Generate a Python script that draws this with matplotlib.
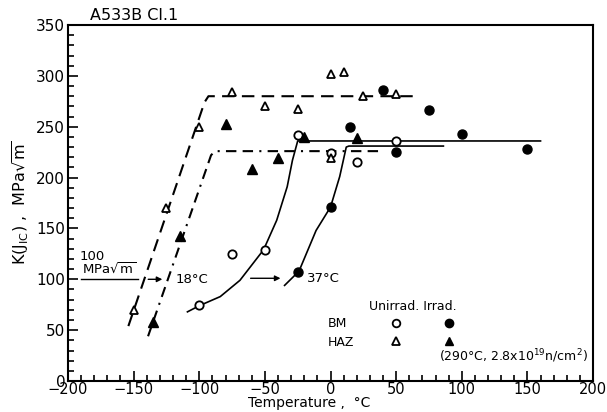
import matplotlib
matplotlib.use("Agg")
import matplotlib.pyplot as plt
import numpy as np

matplotlib.rc('font', family='DejaVu Sans', size=10)

# --- data ---
# BM = base metal, HAZ = heat affected zone
bm_unirr_T = [-100, -75, -50, -25, 0, 20, 50]
bm_unirr_K = [75, 125, 129, 242, 224, 215, 236]
bm_irr_T = [-25, 0, 15, 40, 50, 75, 100, 150]
bm_irr_K = [107, 171, 250, 286, 225, 266, 243, 228]
haz_unirr_T = [-150, -125, -100, -75, -50, -25, 0, 0, 10, 25, 50]
haz_unirr_K = [70, 170, 250, 284, 270, 267, 302, 219, 304, 280, 282]
haz_irr_T = [-135, -115, -80, -60, -40, -20, 20]
haz_irr_K = [58, 143, 253, 208, 219, 240, 239]

# fitted transition curves
haz_unirr_fit_T = [-154, -96, -93, 65]
haz_unirr_fit_K = [54, 274, 280, 280]
haz_irr_fit_T = [-139, -91, -88, 40]
haz_irr_fit_K = [44, 222, 226, 226]
bm_unirr_fit_T = [-109, -100, -84, -69, -51, -41, -33, -29, -25, 160]
bm_unirr_fit_K = [68, 74, 83, 99, 129, 158, 191, 217, 236, 236]
bm_irr_fit_T = [-35, -24, -11, 0, 7, 12, 14, 86]
bm_irr_fit_K = [94, 108, 148, 171, 201, 230, 231, 231]

shift_unirr = [-190, -126]   # 100 MPa sqrt(m) index temperatures
shift_irr = [-63, -36]
K_index = 100

fig = plt.figure(figsize=(6.07, 4.12), dpi=100)
ax = fig.add_axes([0.112, 0.0752, 0.865, 0.8641])

ax.plot(haz_unirr_fit_T, haz_unirr_fit_K, color='black', lw=1.5, ls=(0, (6, 3.5)))
ax.plot(haz_irr_fit_T, haz_irr_fit_K, color='black', lw=1.5, ls=(0, (5, 3, 5, 3, 1, 3)))
ax.plot(bm_unirr_fit_T, bm_unirr_fit_K, color='black', lw=1.2)
ax.plot(bm_irr_fit_T, bm_irr_fit_K, color='black', lw=1.2)

ax.plot(bm_unirr_T, bm_unirr_K, 'o', mfc='white', mec='black', mew=1.3, ms=6)
ax.plot(bm_irr_T, bm_irr_K, 'o', mfc='black', mec='black', ms=6.5)
ax.plot(haz_unirr_T, haz_unirr_K, '^', mfc='white', mec='black', mew=1.3, ms=6)
ax.plot(haz_irr_T, haz_irr_K, '^', mfc='black', mec='black', ms=6.5)

# shift arrows
ax.plot([shift_unirr[0], -147], [K_index, K_index], color='black', lw=1)
ax.annotate('', xy=(shift_unirr[1], K_index), xytext=(-141, K_index),
            arrowprops=dict(arrowstyle='-|>', color='black', lw=1, mutation_scale=8))
ax.annotate('', xy=(shift_irr[1], K_index + 1), xytext=(shift_irr[0], K_index + 1),
            arrowprops=dict(arrowstyle='-|>', color='black', lw=1, mutation_scale=8))
ax.text(-191, 116, '100', fontsize=9.5, va='bottom')
ax.text(-189, 102, r'MPa$\sqrt{\rm m}$', fontsize=9.5, va='bottom')
ax.text(-118, 100, '18°C', fontsize=9.5, va='center')
ax.text(-18, 101, '37°C', fontsize=9.5, va='center')

# legend as text, like the original
ax.text(29, 73, 'Unirrad. Irrad.', fontsize=9, va='center')
ax.text(-2, 57, 'BM', fontsize=9, va='center')
ax.text(-2, 38, 'HAZ', fontsize=9, va='center')
ax.plot([50], [57], 'o', mfc='white', mec='black', mew=1.3, ms=5.5)
ax.plot([90], [57], 'o', mfc='black', mec='black', ms=6)
ax.plot([50], [39], '^', mfc='white', mec='black', mew=1.3, ms=5.5)
ax.plot([90], [39], '^', mfc='black', mec='black', ms=6)
ax.text(83, 24, r'(290°C, 2.8x10$^{19}$n/cm$^{2}$)', fontsize=9, va='center')

ax.text(-183, 352, 'A533B Cl.1', fontsize=11.5, va='bottom')

ax.set_xlim(-200, 200)
ax.set_ylim(0, 350)
ax.set_xticks(np.arange(-200, 201, 50))
ax.set_yticks(np.arange(0, 351, 50))
ax.set_xticks(np.arange(-200, 201, 10), minor=True)
ax.set_yticks(np.arange(0, 351, 10), minor=True)
ax.tick_params(which='both', direction='in', width=1.2)
ax.tick_params(which='major', length=7)
ax.tick_params(which='minor', length=4)
ax.tick_params(axis='x', pad=1, labelsize=10.5)
ax.tick_params(axis='y', pad=2, labelsize=11)
for s in ax.spines.values():
    s.set_linewidth(1.5)

ax.set_xlabel('Temperature ,  °C', fontsize=10)
ax.xaxis.set_label_coords(0.46, -0.043)
ax.set_ylabel(r'K(J$_{\rm IC}$) ,  MPa$\sqrt{\rm m}$', fontsize=11.5, labelpad=4)

fig.savefig('out.png', dpi=100)
